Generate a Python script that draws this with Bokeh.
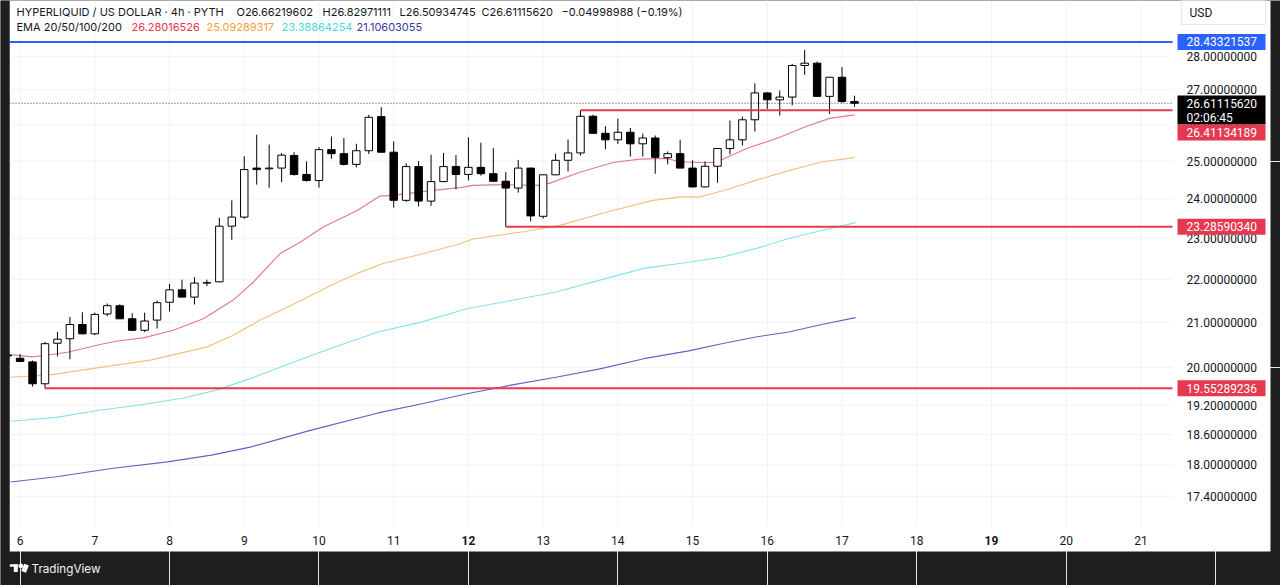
import math
from bokeh.plotting import figure
from bokeh.models import Range1d, Label, ColumnDataSource
from bokeh.embed import file_html
from bokeh.resources import INLINE
from bokeh.core.properties import value

# ---------------- data ----------------
FIRST_BAR_DAY = 5 + 5 / 6      # first (partly hidden) 4h bar, day 5 20:00
BAR_STEP = 1 / 6               # 4 hours in days

OPEN = [20.27, 20.20, 20.12, 19.65, 20.53, 20.63, 20.95, 20.74, 21.19, 21.38,
        21.08, 20.82, 21.05, 21.46, 21.75, 21.58, 21.91, 21.94, 23.30, 23.53,
        24.81, 24.79, 24.81, 25.15, 24.64, 24.48, 25.31, 25.20, 24.91, 25.28,
        26.23, 25.24, 23.96, 24.85, 23.94, 24.45, 24.85, 24.64, 24.83, 24.66,
        24.46, 24.28, 24.81, 23.55, 24.63, 25.02, 25.22, 26.24, 25.76, 25.58,
        25.79, 25.47, 25.63, 25.09, 25.20, 24.81, 24.31, 24.86, 25.34, 25.58,
        26.14, 26.91, 26.71, 26.79, 27.72, 27.79, 26.81, 27.37, 26.66219602]
HIGH = [20.30, 20.29, 20.15, 20.56, 20.78, 21.12, 21.23, 21.22, 21.43, 21.41,
        21.21, 21.22, 21.50, 21.89, 21.99, 22.05, 21.99, 23.51, 23.96, 25.13,
        25.72, 25.45, 25.22, 25.24, 24.99, 25.38, 25.67, 25.63, 25.47, 26.28,
        26.50, 25.54, 24.94, 25.00, 25.17, 25.22, 25.16, 25.65, 25.50, 25.35,
        24.70, 25.03, 24.82, 24.64, 25.20, 25.59, 26.41134189, 26.28, 25.96, 26.17,
        25.91, 25.75, 25.70, 25.26, 25.58, 25.02, 24.99, 25.35, 26.12, 26.23,
        27.19, 26.93, 26.98, 27.77, 28.19, 27.84, 27.38, 27.67, 26.82971111]
LOW = [20.23, 20.12, 19.59, 19.55289236, 20.24, 20.18, 20.73, 20.71, 21.14, 21.08,
       20.81, 20.78, 20.86, 21.25, 21.57, 21.41, 21.84, 21.93, 22.96, 23.49,
       24.37, 24.29, 24.44, 24.61, 24.45, 24.29, 25.06, 24.88, 24.83, 25.19,
       25.23, 23.77, 23.92, 23.80, 23.82, 24.44, 24.25, 24.48, 24.61, 24.45,
       23.28590340, 24.16, 23.42, 23.49, 24.62, 24.72, 25.15, 25.75, 25.32, 25.47,
       25.12, 25.12, 24.66, 24.91, 24.80, 24.29, 24.30, 24.42, 25.18, 25.42,
       25.81, 26.45, 26.26, 26.55, 27.44, 26.80, 26.31, 26.62, 26.50934745]
CLOSE = [20.25, 20.13, 19.65, 20.52, 20.62, 20.95, 20.74, 21.18, 21.38, 21.08,
         20.82, 21.03, 21.45, 21.75, 21.58, 21.91, 21.92, 23.30, 23.53, 24.77,
         24.77, 24.81, 25.16, 24.64, 24.48, 25.31, 25.20, 24.91, 25.28, 26.21,
         25.24, 23.96, 24.85, 23.94, 24.45, 24.85, 24.64, 24.83, 24.66, 24.46,
         24.28, 24.81, 23.56, 24.63, 25.02, 25.22, 26.24, 25.76, 25.58, 25.79,
         25.47, 25.63, 25.10, 25.20, 24.81, 24.31, 24.86, 25.34, 25.58, 26.14,
         26.91, 26.71, 26.79, 27.72, 27.79, 26.81, 27.37, 26.66219602, 26.61115620]

EMA20_T = [5.872, 6.166, 6.313, 6.634, 7.115, 7.302, 7.650, 8.051, 8.452, 8.853,
           9.120, 9.481, 9.749, 10.056, 10.511, 10.818, 10.992, 11.527, 11.888, 12.061,
           12.463, 12.917, 13.091, 13.492, 13.933, 14.294, 14.655, 14.829, 15.096, 15.270,
           15.404, 15.725, 16.166, 16.527, 16.834, 17.168]
EMA20_V = [20.28, 20.23, 20.26, 20.33, 20.52, 20.58, 20.65, 20.82, 21.08, 21.51,
           21.93, 22.62, 22.90, 23.28, 23.70, 24.07, 24.09, 24.22, 24.29, 24.35,
           24.37, 24.35, 24.41, 24.70, 24.96, 25.05, 25.07, 24.98, 24.96, 24.96,
           25.05, 25.34, 25.65, 25.96, 26.18, 26.28016526]
EMA50_T = [5.872, 6.406, 7.075, 7.743, 8.505, 8.853, 9.214, 9.749, 10.190, 10.511,
           10.858, 11.313, 11.888, 12.061, 12.730, 13.225, 13.853, 14.468, 14.829, 15.096,
           15.404, 15.858, 16.299, 16.740, 17.168]
EMA50_V = [19.79, 19.84, 20.00, 20.16, 20.45, 20.71, 21.05, 21.49, 21.88, 22.14,
           22.38, 22.58, 22.86, 22.98, 23.16, 23.32, 23.66, 23.96, 24.05, 24.05,
           24.21, 24.49, 24.75, 24.98, 25.09289317]
EMA100_T = [5.872, 6.487, 6.995, 7.663, 8.185, 8.639, 9.080, 9.896, 10.337, 10.791,
            11.380, 11.981, 12.570, 13.171, 13.759, 14.348, 14.949, 15.390, 15.845, 16.286,
            16.727, 17.182]
EMA100_V = [18.87, 18.95, 19.08, 19.22, 19.35, 19.52, 19.76, 20.26, 20.52, 20.78,
            21.01, 21.31, 21.50, 21.70, 21.98, 22.26, 22.41, 22.53, 22.74, 22.99,
            23.19, 23.38864254]
EMA200_T = [5.872, 6.487, 7.222, 7.971, 8.561, 9.080, 9.896, 10.791, 11.380, 11.981,
            12.570, 13.171, 13.759, 14.348, 14.949, 15.390, 15.845, 16.286, 16.727, 17.182]
EMA200_V = [17.67, 17.77, 17.93, 18.06, 18.19, 18.35, 18.69, 19.04, 19.23, 19.44,
            19.62, 19.79, 19.97, 20.19, 20.36, 20.52, 20.67, 20.78, 20.95, 21.10603055]

BLUE_LEVEL = 28.43321537
RED_LEVELS = [26.41134189, 23.28590340, 19.55289236]
RED_START_DAY = [13.5, 12.5, 6 + 2 / 6]
LAST_CLOSE = 26.61115620
COUNTDOWN = "02:06:45"

PRICE_TICKS = [17.4, 18.0, 18.6, 19.2, 20.0, 21.0, 22.0, 23.0, 24.0, 25.0, 26.0, 27.0, 28.0]
DAY_TICKS = [6, 7, 8, 9, 10, 11, 13, 14, 15, 16, 17, 18, 20, 21]
BOLD_DAY_TICKS = [12, 19]

TITLE = "HYPERLIQUID / US DOLLAR · 4h · PYTH"
OHLC_PARTS = ["O26.66219602", "H26.82971111", "L26.50934745", "C26.61115620",
              "−0.04998988 (−0.19%)"]
EMA_LABEL = "EMA 20/50/100/200"
EMA_TEXTS = ["26.28016526", "25.09289317", "23.38864254", "21.10603055"]

# ---------------- layout calibration (page pixels) ----------------
W, H = 1280, 585
PX_DAY6, PX_PER_DAY = 19.6, 74.72       # x of day-6 tick, px per day
PY_28, PX_PER_LN = 55.7, 925.0          # y of price 28, px per unit of ln(price)


def px2day(X):
    return 6 + (X - PX_DAY6) / PX_PER_DAY


def py2price(Y):
    return 28.0 * math.exp((PY_28 - Y) / PX_PER_LN)


PANEL_L, PANEL_R, PANEL_B = 9, 1270, 551       # white panel
CHART_R, CHART_B = 1172, 526                   # price pane edge
AXIS_TEXT_X, DAY_TEXT_Y = 1186, 540

# ---------------- style ----------------
FONT = "Roboto"
HFONT = "Inter"
INK = "#131722"
DARK = "#1f1f1f"
EMA_COLORS = ["#e5364a", "#f0a13a", "#4fd6e0", "#3a37a8"]
EMA_LINE_COLORS = ["#df7d87", "#f5c07e", "#86e3ea", "#6562c2"]
RED = "#e5394f"
BLUE = "#2962ff"
GRID = "#f0f2f5"

p = figure(width=W, height=H,
           x_range=Range1d(px2day(0), px2day(W)), y_range=Range1d(py2price(H), py2price(0)),
           y_axis_type="log", x_axis_location=None, y_axis_location=None,
           output_backend="svg", toolbar_location=None, title=None,
           min_border=0, min_border_left=0, min_border_right=0,
           min_border_top=0, min_border_bottom=0)
p.background_fill_color = DARK
p.border_fill_color = DARK
p.outline_line_color = None

x_left, x_chart_r = px2day(PANEL_L), px2day(CHART_R)
y_top, y_chart_b = py2price(0), py2price(CHART_B)

# white panel
p.quad(left=[x_left], right=[px2day(PANEL_R)], bottom=[py2price(PANEL_B)], top=[y_top],
       fill_color="white", line_color=None)

# grid
all_days = DAY_TICKS + BOLD_DAY_TICKS
p.segment(x0=all_days, x1=all_days, y0=[y_chart_b] * len(all_days), y1=[y_top] * len(all_days),
          line_color=GRID, line_width=1)
p.segment(x0=[x_left] * len(PRICE_TICKS), x1=[x_chart_r] * len(PRICE_TICKS),
          y0=PRICE_TICKS, y1=PRICE_TICKS, line_color=GRID, line_width=1)

# EMA lines
for t, v, col in zip([EMA200_T, EMA100_T, EMA50_T, EMA20_T],
                     [EMA200_V, EMA100_V, EMA50_V, EMA20_V],
                     EMA_LINE_COLORS[::-1]):
    p.line(t, v, line_color=col, line_width=1.15)

# candles
times = [FIRST_BAR_DAY + i * BAR_STEP for i in range(len(OPEN))]
src = ColumnDataSource(dict(
    t=times, o=OPEN, h=HIGH, l=LOW, c=CLOSE,
    top=[max(o, c) for o, c in zip(OPEN, CLOSE)],
    bot=[min(o, c) for o, c in zip(OPEN, CLOSE)],
    fill=["white" if c >= o else "black" for o, c in zip(OPEN, CLOSE)],
))
p.segment(x0="t", y0="l", x1="t", y1="h", source=src, line_color="black", line_width=1)
p.vbar(x="t", width=BAR_STEP * 0.6, top="top", bottom="bot", source=src,
       fill_color="fill", line_color="black", line_width=1)

# levels
p.segment(x0=[x_left], x1=[x_chart_r], y0=[BLUE_LEVEL], y1=[BLUE_LEVEL],
          line_color=BLUE, line_width=2)
p.segment(x0=RED_START_DAY, y0=RED_LEVELS, x1=[x_chart_r] * len(RED_LEVELS), y1=RED_LEVELS,
          line_color=RED, line_width=2)
p.segment(x0=[x_left], x1=[x_chart_r], y0=[LAST_CLOSE], y1=[LAST_CLOSE],
          line_color=INK, line_width=1, line_dash="1 2", line_alpha=0.85)

# dark strip left of the panel (covers the clipped first bar)
p.quad(left=[px2day(0)], right=[x_left], bottom=[py2price(H)], top=[y_top],
       fill_color=DARK, line_color=None)

# axis texts
p.text(x=[px2day(AXIS_TEXT_X)] * len(PRICE_TICKS), y=PRICE_TICKS,
       text=["%.8f" % t for t in PRICE_TICKS], text_font=value(FONT), text_font_size="12px",
       text_color=INK, text_baseline="middle", text_align="left")
p.text(x=DAY_TICKS, y=[py2price(DAY_TEXT_Y)] * len(DAY_TICKS), text=[str(d) for d in DAY_TICKS],
       text_font=value(FONT), text_font_size="12px", text_color=INK,
       text_baseline="middle", text_align="center")
p.text(x=BOLD_DAY_TICKS, y=[py2price(DAY_TEXT_Y)] * len(BOLD_DAY_TICKS),
       text=[str(d) for d in BOLD_DAY_TICKS], text_font=value(FONT), text_font_size="12px",
       text_font_style="bold", text_color=INK, text_baseline="middle", text_align="center")

# price tags on the axis
TAG_CX, TAG_W = 1221, 88
tag_y = [BLUE_LEVEL, py2price(109.5), py2price(132), RED_LEVELS[1], RED_LEVELS[2]]
tag_h = [16, 29, 16, 16, 16]
tag_c = [BLUE, "black", RED, RED, RED]
p.rect(x=[px2day(TAG_CX)] * 5, y=tag_y, width=TAG_W, height=tag_h,
       width_units="screen", height_units="screen", fill_color=tag_c, line_color=None)
tag_texts = ["%.8f" % BLUE_LEVEL, "%.8f" % LAST_CLOSE, COUNTDOWN,
             "%.8f" % RED_LEVELS[0], "%.8f" % RED_LEVELS[1], "%.8f" % RED_LEVELS[2]]
tag_text_y = [BLUE_LEVEL, py2price(103), py2price(117), py2price(132), RED_LEVELS[1], RED_LEVELS[2]]
p.text(x=[px2day(AXIS_TEXT_X)] * 6, y=tag_text_y, text=tag_texts, text_font=value(FONT),
       text_font_size="12px", text_color="white", text_baseline="middle", text_align="left")

# currency box
p.rect(x=[px2day(1223)], y=[py2price(12)], width=84, height=24, width_units="screen",
       height_units="screen", fill_color="white", line_color="#e6e8ee", line_width=1)
p.add_layout(Label(x=1189, y=H - 12, x_units="screen", y_units="screen", text="USD",
                   text_font=FONT, text_font_size="12px", text_color=INK, text_baseline="middle"))

# header
p.add_layout(Label(x=16, y=H - 11, x_units="screen", y_units="screen", text=TITLE,
                   text_font=HFONT, text_font_size="11px", text_color=INK,
                   text_baseline="middle"))
for txt, x in zip(OHLC_PARTS, [236, 322, 399, 481, 561]):
    p.add_layout(Label(x=x, y=H - 11, x_units="screen", y_units="screen", text=txt,
                       text_font=HFONT, text_font_size="11px", text_color=INK,
                       text_baseline="middle"))
p.add_layout(Label(x=16, y=H - 26, x_units="screen", y_units="screen", text=EMA_LABEL,
                   text_font=HFONT, text_font_size="11px", text_color=INK, text_baseline="middle"))
for txt, x, col in zip(EMA_TEXTS, [131, 206, 281, 356], EMA_COLORS):
    p.add_layout(Label(x=x, y=H - 26, x_units="screen", y_units="screen", text=txt,
                       text_font=HFONT, text_font_size="11px", text_color=col,
                       text_baseline="middle"))

# footer logo + name
p.rect(x=[px2day(13.3), px2day(15.3), px2day(24.6)],
       y=[py2price(565), py2price(567.7), py2price(567.7)],
       width=[8, 4, 5], height=[2.6, 7.4, 7.8], angle=[0, 0, -0.38],
       width_units="screen", height_units="screen", fill_color="white", line_color=None)
p.scatter(x=[px2day(20.4)], y=[py2price(565.4)], size=4, color="white")
p.add_layout(Label(x=31, y=H - 568, x_units="screen", y_units="screen", text="TradingView",
                   text_font=HFONT, text_font_size="11.7px", text_color="#f2f2f2",
                   text_baseline="middle"))

open("out.html", "w").write(file_html(p, INLINE))
